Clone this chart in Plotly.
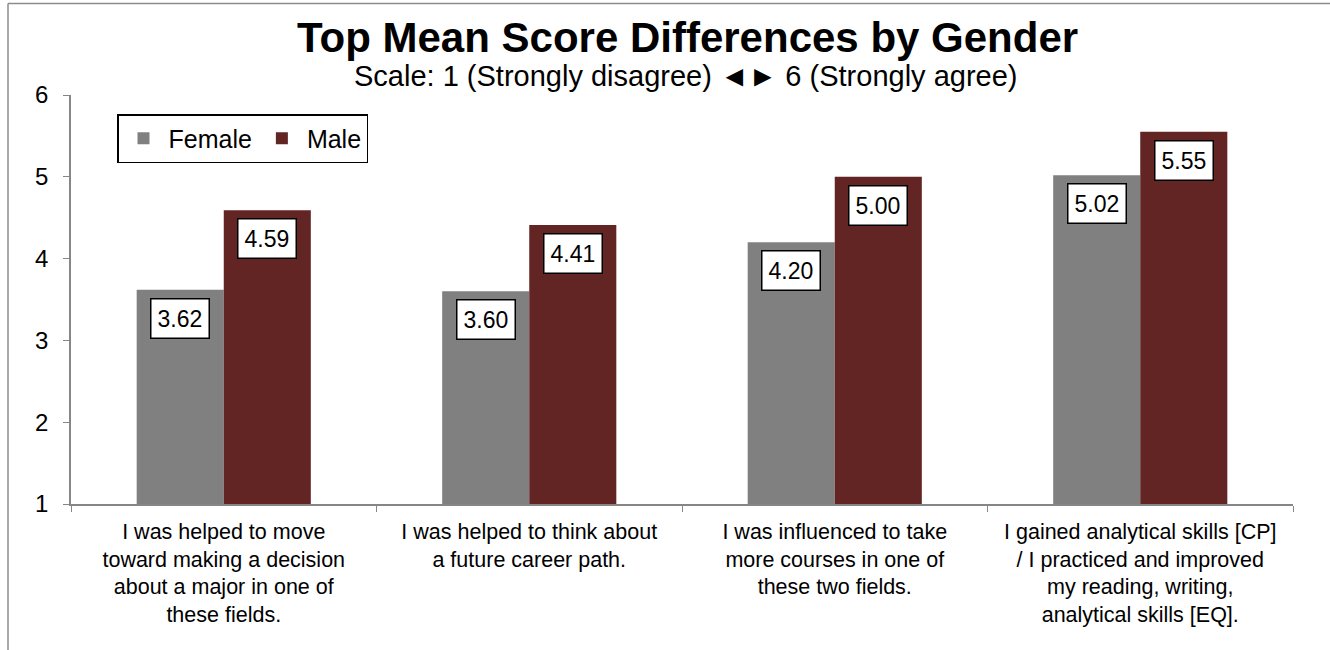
import plotly.graph_objects as go

categories = [
    "I was helped to move<br>toward making a decision<br>about a major in one of<br>these fields.",
    "I was helped to think about<br>a future career path.",
    "I was influenced to take<br>more courses in one of<br>these two fields.",
    "I gained analytical skills [CP]<br>/ I practiced and improved<br>my reading, writing,<br>analytical skills [EQ].",
]
cat_keys = ["c1", "c2", "c3", "c4"]
female = [3.62, 3.60, 4.20, 5.02]
male = [4.59, 4.41, 5.00, 5.55]
series_names = ["Female", "Male"]
colors = ["#808080", "#632523"]

W, H = 1330, 650
ML, MR, MT, MB = 71, 37, 95, 146
BARGAP = 0.43
FONT = "Arial, Liberation Sans, sans-serif"

fig = go.Figure()
for name, vals, col in zip(series_names, [female, male], colors):
    fig.add_trace(go.Bar(x=cat_keys, y=vals, name=name, marker=dict(color=col, line=dict(width=0))))

plot_w = W - ML - MR
plot_h = H - MT - MB
bar_px = plot_w / len(cat_keys) * (1 - BARGAP) / 2
for sign, vals in zip([-1, 1], [female, male]):
    for k, v in zip(cat_keys, vals):
        fig.add_annotation(
            x=k, y=v, xref="x", yref="y", text=f"{v:.2f}", showarrow=False,
            xshift=sign * bar_px / 2, yshift=-8, yanchor="top",
            bgcolor="white", bordercolor="black", borderwidth=1.5, borderpad=6,
            font=dict(size=23, color="black", family=FONT),
        )

fig.add_annotation(x=0.5045, y=(H - MB - 38) / plot_h, xref="paper", yref="paper", yanchor="middle",
                   text="<b>Top Mean Score Differences by Gender</b>", showarrow=False,
                   font=dict(size=42, color="black", family=FONT))
fig.add_annotation(x=0.503, y=(H - MB - 76) / plot_h, xref="paper", yref="paper", yanchor="middle",
                   text="Scale: 1 (Strongly disagree) ◄► 6 (Strongly agree)", showarrow=False,
                   font=dict(size=29, color="black", family=FONT))

# outer chart border (only top and left edges are visible in the frame)
bx0 = (8 - ML) / plot_w
by1 = (H - MB - 3.5) / plot_h
border = dict(color="#8c8c8c", width=1.5)
fig.add_shape(type="line", xref="paper", yref="paper", x0=bx0, x1=1.2, y0=by1, y1=by1, line=border)
fig.add_shape(type="line", xref="paper", yref="paper", x0=bx0, x1=bx0, y0=-0.5, y1=by1, line=border)

fig.update_layout(
    width=W, height=H,
    margin=dict(l=ML, r=MR, t=MT, b=MB, autoexpand=False),
    plot_bgcolor="white", paper_bgcolor="white",
    barmode="group", bargap=BARGAP, bargroupgap=0,
    font=dict(family=FONT, color="black"),
    legend=dict(orientation="h", x=(117 - ML) / plot_w, y=(H - MB - 114) / plot_h,
                xanchor="left", yanchor="top",
                bordercolor="black", borderwidth=1.5, bgcolor="white",
                font=dict(size=25, family=FONT), itemwidth=40, tracegroupgap=0),
    xaxis=dict(tickmode="array", tickvals=cat_keys, ticktext=categories,
               tickson="boundaries", ticks="outside", ticklen=6, tickcolor="#868686",
               showline=True, linecolor="#868686", linewidth=1.5, showgrid=False,
               automargin=False, ticklabelstandoff=7,
               tickfont=dict(size=21.5, family=FONT, color="black")),
    yaxis=dict(range=[1, 6], tickvals=[1, 2, 3, 4, 5, 6], ticks="outside", ticklen=6,
               tickcolor="#868686", showline=True, linecolor="#868686", linewidth=1.5,
               showgrid=False, zeroline=False, automargin=False, ticklabelstandoff=10,
               tickfont=dict(size=24, family=FONT, color="black")),
)

fig.write_html("out.html", config={"displayModeBar": False},
               post_script="document.body.style.margin='0';")
